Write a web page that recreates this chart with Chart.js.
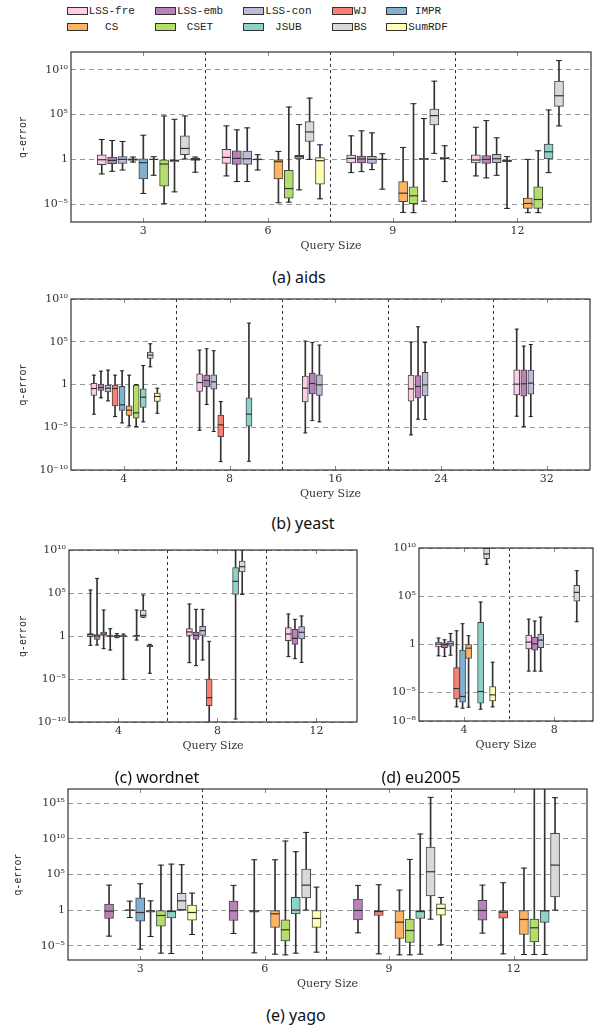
<!DOCTYPE html>
<html>
<head>
<meta charset="utf-8">
<script src="https://cdn.jsdelivr.net/npm/chart.js@4.4.1/dist/chart.umd.min.js"></script>
<style>
  body { margin: 0; width: 600px; height: 1030px; background: #fff; position: relative; overflow: hidden; }
  canvas { position: absolute; }
  .cap { position: absolute; transform: translate(-50%, -50%); white-space: nowrap;
         font-family: "Noto Sans", sans-serif; font-size: 16px; color: #111; }
  .sw { position: absolute; width: 19px; height: 6px; border: 1px solid #333; }
  .lt { position: absolute; text-align: center; font-family: "Liberation Mono", monospace;
        font-size: 11px; line-height: 14px; color: #222; white-space: nowrap; }
</style>
</head>
<body>
<script>
// methods and their colours (legend order)
const methods = ["LSS-fre", "LSS-emb", "LSS-con", "WJ", "IMPR", "CS", "CSET", "JSUB", "BS", "SumRDF"];
const methodColors = ["#fccde5", "#bc80bd", "#bebada", "#fb8072", "#80b1d3", "#fdb462", "#b3de69", "#8dd3c7", "#d9d9d9", "#ffffb3"];

// query sizes per dataset
const aidsSizes = ["3", "6", "9", "12"];
const yeastSizes = ["4", "8", "16", "24", "32"];
const wordnetSizes = ["4", "8", "12"];
const eu2005Sizes = ["4", "8"];
const yagoSizes = ["3", "6", "9", "12"];

// y tick positions, log10(q-error)
const aidsYTicks = [-5, 0, 5, 10];
const yeastYTicks = [-10, -5, 0, 5, 10];
const wordnetYTicks = [-10, -5, 0, 5, 10];
const eu2005YTicks = [-8, -5, 0, 5, 10];
const yagoYTicks = [-5, 0, 5, 10, 15];

// boxes: [method, size index, min, q1, median, q3, max], values are log10(q-error)
const aidsBoxes = [
  ["LSS-fre", 0, -1.63, -0.59, -0.04, 0.52, 2.22],
  ["LSS-emb", 0, -1.33, -0.48, -0.11, 0.26, 2.11],
  ["LSS-con", 0, -1.19, -0.44, 0, 0.3, 2.0],
  ["WJ", 0, -0.3, -0.11, 0, 0.07, 0.26],
  ["IMPR", 0, -3.81, -2.19, -0.37, 0.07, 2.7],
  ["CS", 0, -1.78, -0.07, 0, 0, 0.3],
  ["CSET", 0, -4.96, -3.0, -0.52, 0, 4.85],
  ["JSUB", 0, -3.63, -0.26, -0.11, -0.07, 4.48],
  ["BS", 0, 0.04, 0.52, 1.22, 2.63, 4.85],
  ["SumRDF", 0, -1.44, -0.11, 0, 0.11, 0.26],
  ["LSS-fre", 1, -1.85, -0.44, 0.22, 1.11, 3.74],
  ["LSS-emb", 1, -2.48, -0.56, 0.11, 0.96, 3.3],
  ["LSS-con", 1, -2.48, -0.56, 0.07, 0.93, 3.52],
  ["WJ", 1, -1.19, -0.07, 0, 0.04, 0.52],
  ["CS", 1, -4.85, -2.19, -0.26, -0.04, 0.89],
  ["CSET", 1, -4.78, -4.33, -3.26, -1.22, 5.85],
  ["JSUB", 1, -3.41, 0, 0.3, 0.44, 3.89],
  ["BS", 1, 0, 2.0, 3.07, 4.22, 6.85],
  ["SumRDF", 1, -4.41, -2.78, -0.15, 0.19, 1.63],
  ["LSS-fre", 2, -1.48, -0.41, 0.11, 0.48, 2.63],
  ["LSS-emb", 2, -1.37, -0.41, 0.04, 0.37, 3.19],
  ["LSS-con", 2, -1.15, -0.44, 0, 0.33, 2.96],
  ["WJ", 2, -3.33, -0.04, 0, 0.04, 0.63],
  ["CS", 2, -5.93, -4.74, -3.78, -2.48, 1.33],
  ["CSET", 2, -5.96, -4.96, -4.07, -3.07, 6.22],
  ["JSUB", 2, -4.67, -0.04, 0.04, 0.11, 4.56],
  ["BS", 2, 0.67, 3.85, 4.89, 5.63, 8.74],
  ["SumRDF", 2, -2.48, 0, 0.11, 0.22, 1.52],
  ["LSS-fre", 3, -1.85, -0.41, -0.07, 0.52, 3.59],
  ["LSS-emb", 3, -2.07, -0.44, 0, 0.41, 4.33],
  ["LSS-con", 3, -1.78, -0.37, 0.07, 0.56, 2.41],
  ["WJ", 3, -5.48, -0.26, -0.15, 0, 0.3],
  ["CS", 3, -5.96, -5.48, -4.93, -4.33, 0],
  ["CSET", 3, -5.96, -5.48, -4.48, -3.07, 0.96],
  ["JSUB", 3, -1.48, 0, 0.85, 1.7, 5.52],
  ["BS", 3, 3.74, 5.93, 7.11, 8.74, 11.04]
];

const yeastBoxes = [
  ["LSS-fre", 0, -3.47, -1.29, -0.47, 0.15, 1.09],
  ["LSS-emb", 0, -1.56, -0.7, -0.35, 0.04, 1.56],
  ["LSS-con", 0, -1.91, -0.86, -0.43, 0, 1.68],
  ["WJ", 0, -3.75, -2.5, -0.47, -0.08, 1.09],
  ["IMPR", 0, -4.49, -3.04, -2.38, -0.2, 1.6],
  ["CS", 0, -4.84, -3.63, -3.0, -2.5, 1.09],
  ["CSET", 0, -4.92, -3.94, -3.32, 0, 0],
  ["JSUB", 0, -4.37, -2.69, -1.48, -0.51, 2.22],
  ["BS", 0, 2.07, 3.05, 3.44, 3.79, 4.76],
  ["SumRDF", 0, -3.36, -1.99, -1.4, -1.01, -0.43],
  ["LSS-fre", 1, -5.35, -0.82, 0.23, 1.25, 4.02],
  ["LSS-emb", 1, -2.34, -0.27, 0.47, 1.09, 4.18],
  ["LSS-con", 1, -5.5, -0.55, 0.31, 1.13, 3.95],
  ["WJ", 1, -9.02, -6.09, -4.72, -3.59, -1.99],
  ["JSUB", 1, -8.98, -4.88, -3.47, -1.56, 7.18],
  ["LSS-fre", 2, -5.66, -2.03, -0.43, 0.98, 5.07],
  ["LSS-emb", 2, -4.22, -1.09, 0.12, 1.33, 4.92],
  ["LSS-con", 2, -4.37, -1.29, -0.04, 1.13, 4.61],
  ["LSS-fre", 3, -5.89, -1.95, -0.51, 1.09, 4.96],
  ["LSS-emb", 3, -4.06, -1.56, -0.23, 1.05, 6.75],
  ["LSS-con", 3, -4.1, -1.33, -0.04, 1.41, 4.92],
  ["LSS-fre", 4, -3.71, -1.21, 0.04, 1.72, 6.48],
  ["LSS-emb", 4, -4.92, -1.37, 0.08, 1.72, 4.49],
  ["LSS-con", 4, -3.75, -1.13, 0.16, 1.68, 4.68]
];

const wordnetBoxes = [
  ["LSS-fre", 0, -1.09, -0.08, 0.16, 0.27, 5.35],
  ["LSS-emb", 0, -1.05, -0.39, 0, 0.16, 6.7],
  ["LSS-con", 0, -1.47, 0, 0.23, 0.47, 3.02],
  ["WJ", 0, -1.63, -0.05, 0, 0.05, 0.85],
  ["IMPR", 0, -0.19, -0.16, 0, 0.12, 0.27],
  ["CS", 0, -5.04, -0.08, 0, 0.04, 0.23],
  ["JSUB", 0, -0.47, -0.05, 0.04, 0.08, 3.02],
  ["BS", 0, 2.17, 2.2, 2.4, 3.02, 4.77],
  ["SumRDF", 0, -4.34, -1.24, -1.16, -1.09, -0.97],
  ["LSS-fre", 1, -3.1, 0, 0.47, 0.85, 3.72],
  ["LSS-emb", 1, -3.45, -0.39, 0.08, 0.47, 3.1],
  ["LSS-con", 1, -2.79, 0, 0.62, 1.12, 3.1],
  ["WJ", 1, -11, -8.1, -7.17, -5.0, -0.62],
  ["JSUB", 1, -9.65, 4.84, 6.36, 7.95, 11],
  ["BS", 1, 4.84, 7.44, 8.06, 8.72, 11],
  ["LSS-fre", 2, -2.4, -0.54, 0.23, 0.97, 2.56],
  ["LSS-emb", 2, -2.64, -0.97, -0.27, 0.78, 1.94],
  ["LSS-con", 2, -3.06, -0.35, 0.43, 1.09, 2.33]
];

const eu2005Boxes = [
  ["LSS-fre", 0, -1.22, -0.28, 0, 0.21, 0.63],
  ["LSS-emb", 0, -1.28, -0.38, -0.07, 0.14, 0.45],
  ["LSS-con", 0, -1.15, -0.21, 0.03, 0.31, 1.11],
  ["WJ", 0, -6.53, -5.69, -4.62, -2.43, 1.39],
  ["IMPR", 0, -6.67, -6.04, -5.45, -0.63, 2.12],
  ["CS", 0, -6.56, -1.49, -0.42, 0, 0.87],
  ["JSUB", 0, -6.77, -6.15, -4.93, 2.26, 4.38],
  ["BS", 0, 8.3, 8.89, 9.38, 9.97, 10.2],
  ["SumRDF", 0, -6.53, -5.9, -5.28, -4.41, -1.88],
  ["LSS-fre", 1, -2.81, -0.49, 0.21, 0.94, 2.6],
  ["LSS-emb", 1, -2.81, -0.63, 0.03, 0.73, 2.4],
  ["LSS-con", 1, -2.81, -0.38, 0.42, 1.04, 2.81],
  ["BS", 1, 2.33, 4.48, 5.38, 6.11, 7.64]
];

const yagoBoxes = [
  ["LSS-emb", 0, -3.65, -1.17, -0.14, 0.84, 3.51],
  ["WJ", 0, -1.03, -0.05, 0, 0.05, 1.26],
  ["IMPR", 0, -5.48, -1.55, -0.33, 1.73, 3.7],
  ["CS", 0, -3.7, -0.28, -0.14, 0, 1.31],
  ["CSET", 0, -6.04, -2.25, -0.75, 0, 6.32],
  ["JSUB", 0, -6.09, -1.08, -0.19, 0, 6.46],
  ["BS", 0, 0, 0, 1.31, 2.34, 6.37],
  ["SumRDF", 0, -3.42, -1.41, -0.33, 0.7, 2.39],
  ["LSS-emb", 1, -3.28, -1.45, -0.09, 1.26, 3.47],
  ["WJ", 1, -6.0, -0.28, -0.14, 0, 7.07],
  ["CS", 1, -6.18, -2.44, -0.52, 0, 7.07],
  ["CSET", 1, -6.28, -4.31, -2.76, -1.36, 9.7],
  ["JSUB", 1, -6.04, -0.52, 0, 1.78, 8.2],
  ["BS", 1, 0, 1.73, 3.51, 5.76, 10.91],
  ["SumRDF", 1, -5.9, -2.44, -1.17, -0.05, 3.23],
  ["LSS-emb", 2, -3.19, -1.36, -0.05, 1.55, 3.47],
  ["WJ", 2, -6.14, -0.75, -0.2, 0, 3.56],
  ["CS", 2, -6.28, -3.98, -1.69, -0.09, 2.81],
  ["CSET", 2, -6.28, -4.54, -2.86, -1.26, 7.12],
  ["JSUB", 2, -6.18, -1.17, -0.2, 0, 10.68],
  ["BS", 2, -1.26, 2.01, 5.39, 8.85, 15.83],
  ["SumRDF", 2, -4.87, -0.7, 0.23, 0.89, 1.78],
  ["LSS-emb", 3, -3.23, -1.41, -0.05, 1.36, 3.51],
  ["WJ", 3, -6.14, -1.12, -0.3, 0, 3.84],
  ["CS", 3, -6.23, -3.42, -1.31, -0.05, 5.9],
  ["CSET", 3, -6.23, -4.45, -2.48, -1.26, 18],
  ["JSUB", 3, -6.23, -1.73, -0.1, 0, 18],
  ["BS", 3, 0, 1.87, 6.32, 10.77, 15.78]
];

// ---- legend ----
const legendColX = [66.7, 155, 243.3, 331.7, 386];
const legendTextW = [46, 46, 46, 13, 40];
const legendRowY = [11, 27];
methods.forEach((m, i) => {
  const row = i < 5 ? 0 : 1, col = i % 5;
  const sw = document.createElement("div");
  sw.className = "sw";
  sw.style.left = legendColX[col] + "px";
  sw.style.top = (legendRowY[row] - 4) + "px";
  sw.style.background = methodColors[i];
  document.body.appendChild(sw);
  const t = document.createElement("div");
  t.className = "lt";
  t.textContent = m;
  t.style.left = (legendColX[col] + 22) + "px";
  t.style.width = legendTextW[col] + "px";
  t.style.top = (legendRowY[row] - 7) + "px";
  document.body.appendChild(t);
});

function caption(text, x, y) {
  const d = document.createElement("div");
  d.className = "cap";
  d.textContent = text;
  d.style.left = x + "px";
  d.style.top = y + "px";
  document.body.appendChild(d);
}

const SUP = { "-": "\u207b", "0": "\u2070", "1": "\u00b9", "2": "\u00b2", "3": "\u00b3", "4": "\u2074",
              "5": "\u2075", "6": "\u2076", "7": "\u2077", "8": "\u2078", "9": "\u2079" };
const powLabel = v => v === 0 ? "1" : "10" + String(v).split("").map(c => SUP[c]).join("");

const framePlugin = {
  id: "frame",
  afterDatasetsDraw(chart) {
    const { ctx, chartArea: { left, top, right, bottom }, scales: { x } } = chart;
    ctx.save();
    ctx.beginPath();
    x.ticks.forEach(t => {
      if (!Number.isInteger(t.value)) return;
      const px = Math.round(x.getPixelForValue(t.value)) + 0.5;
      ctx.moveTo(px, top); ctx.lineTo(px, top + 4);
      ctx.moveTo(px, bottom); ctx.lineTo(px, bottom - 4);
    });
    ctx.strokeStyle = "#888";
    ctx.lineWidth = 1;
    ctx.stroke();
    ctx.strokeStyle = "#333";
    ctx.lineWidth = 1.2;
    ctx.strokeRect(left, top, right - left, bottom - top);
    ctx.restore();
  }
};

const tickFont = { family: "DejaVu Serif", size: 11 };

function boxPlot(cfg) {
  const { rect, canvasLeft, rows, sizes, yTicks, yMin, yMax, xMin, xMax, slot, mid, boxW, capW, titleX } = cfg;
  const padTop = 10, padRight = 8, xAxisH = 34;
  const yAxisW = rect.left - canvasLeft;
  const canvas = document.createElement("canvas");
  canvas.width = rect.right - canvasLeft + padRight;
  canvas.height = rect.bottom - rect.top + padTop + xAxisH;
  canvas.style.left = canvasLeft + "px";
  canvas.style.top = (rect.top - padTop) + "px";
  document.body.appendChild(canvas);

  const pos = r => r[1] + (methods.indexOf(r[0]) - mid) * slot;
  const xTickVals = [];
  sizes.forEach((s, i) => { xTickVals.push(i); if (i < sizes.length - 1) xTickVals.push(i + 0.5); });

  const datasets = [];
  datasets.push({
    type: "scatter", order: 0,
    data: rows.map(r => ({ x: pos(r), y: r[4] })),
    pointStyle: "line", pointRadius: boxW / 2, pointBorderColor: "#333", pointBorderWidth: 1.2
  });
  methods.forEach((m, i) => {
    const mine = rows.filter(r => r[0] === m);
    if (!mine.length) return;
    datasets.push({
      type: "bar", order: 1, grouped: false,
      data: mine.map(r => ({ x: pos(r), y: [r[3], r[5]] })),
      backgroundColor: methodColors[i], borderColor: "#444", borderWidth: 1,
      borderSkipped: false, barThickness: boxW
    });
  });
  datasets.push({
    type: "scatter", order: 2,
    data: rows.flatMap(r => [{ x: pos(r), y: r[2] }, { x: pos(r), y: r[6] }]),
    pointStyle: "line", pointRadius: capW / 2, pointBorderColor: "#222", pointBorderWidth: 1
  });
  datasets.push({
    type: "bar", order: 3, grouped: false,
    data: rows.map(r => ({ x: pos(r), y: [r[2], r[6]] })),
    backgroundColor: "#333", borderWidth: 0, barThickness: 1
  });

  new Chart(canvas.getContext("2d"), {
    type: "bar",
    data: { datasets },
    options: {
      responsive: false, animation: false, devicePixelRatio: 1, events: [],
      layout: { padding: { top: padTop, right: padRight, left: 0, bottom: 0 } },
      plugins: { legend: { display: false }, tooltip: { enabled: false } },
      scales: {
        x: {
          type: "linear", min: xMin, max: xMax, offset: false,
          afterBuildTicks: ax => { ax.ticks = xTickVals.map(v => ({ value: v })); },
          afterFit: ax => { ax.height = xAxisH; },
          ticks: {
            autoSkip: false, maxRotation: 0, padding: 3, color: "#333", font: tickFont,
            callback: v => Number.isInteger(v) ? sizes[v] : ""
          },
          grid: {
            offset: false, drawTicks: false, lineWidth: 1,
            color: c => Number.isInteger(c.tick.value) ? "rgba(0,0,0,0)" : "#333"
          },
          border: { display: false, dash: [3, 3] },
          title: { display: true, text: "Query Size", color: "#333", font: tickFont, padding: { top: 0, bottom: 3 } }
        },
        y: {
          type: "linear", min: yMin, max: yMax,
          afterBuildTicks: ax => { ax.ticks = yTicks.map(v => ({ value: v })); },
          afterFit: ax => { ax.width = yAxisW; },
          ticks: { padding: 3, color: "#333", font: tickFont, callback: v => powLabel(v) },
          grid: { drawTicks: false, color: "#9a9a9a", lineWidth: 1 },
          border: { display: false, dash: [5, 4] },
          title: {
            display: titleX !== null, text: "q-error", color: "#222",
            font: { family: "Liberation Mono", size: 10 },
            padding: { top: titleX === null ? 0 : titleX - 6, bottom: 0 }
          }
        }
      }
    },
    plugins: [framePlugin]
  });
}

boxPlot({ rect: { left: 71, top: 52, right: 591, bottom: 222 }, canvasLeft: 0, rows: aidsBoxes, sizes: aidsSizes,
  yTicks: aidsYTicks, yMin: -7, yMax: 12, xMin: -0.58, xMax: 3.59, slot: 1 / 12, mid: 4, boxW: 9, capW: 6, titleX: 23 });
boxPlot({ rect: { left: 71, top: 299, right: 590, bottom: 470 }, canvasLeft: 0, rows: yeastBoxes, sizes: yeastSizes,
  yTicks: yeastYTicks, yMin: -10, yMax: 10, xMin: -0.5, xMax: 4.41, slot: 1 / 15, mid: 4.25, boxW: 6, capW: 4, titleX: 23 });
boxPlot({ rect: { left: 69, top: 550, right: 357, bottom: 722 }, canvasLeft: 0, rows: wordnetBoxes, sizes: wordnetSizes,
  yTicks: wordnetYTicks, yMin: -10, yMax: 10, xMin: -0.5, xMax: 2.41, slot: 1 / 15, mid: 4.25, boxW: 6, capW: 4, titleX: 23 });
boxPlot({ rect: { left: 419, top: 548, right: 593, bottom: 721 }, canvasLeft: 365, rows: eu2005Boxes, sizes: eu2005Sizes,
  yTicks: eu2005YTicks, yMin: -8, yMax: 10, xMin: -0.5, xMax: 1.43, slot: 1 / 15, mid: 4.25, boxW: 6, capW: 4, titleX: null });
boxPlot({ rect: { left: 68, top: 789, right: 587, bottom: 960 }, canvasLeft: 0, rows: yagoBoxes, sizes: yagoSizes,
  yTicks: yagoYTicks, yMin: -7, yMax: 17, xMin: -0.58, xMax: 3.59, slot: 1 / 12, mid: 4, boxW: 9, capW: 6, titleX: 18 });

caption("(a) aids", 299, 277);
caption("(b) yeast", 303, 523);
caption("(c) wordnet", 157, 777);
caption("(d) eu2005", 421, 777);
caption("(e) yago", 296, 1015);
</script>
</body>
</html>
